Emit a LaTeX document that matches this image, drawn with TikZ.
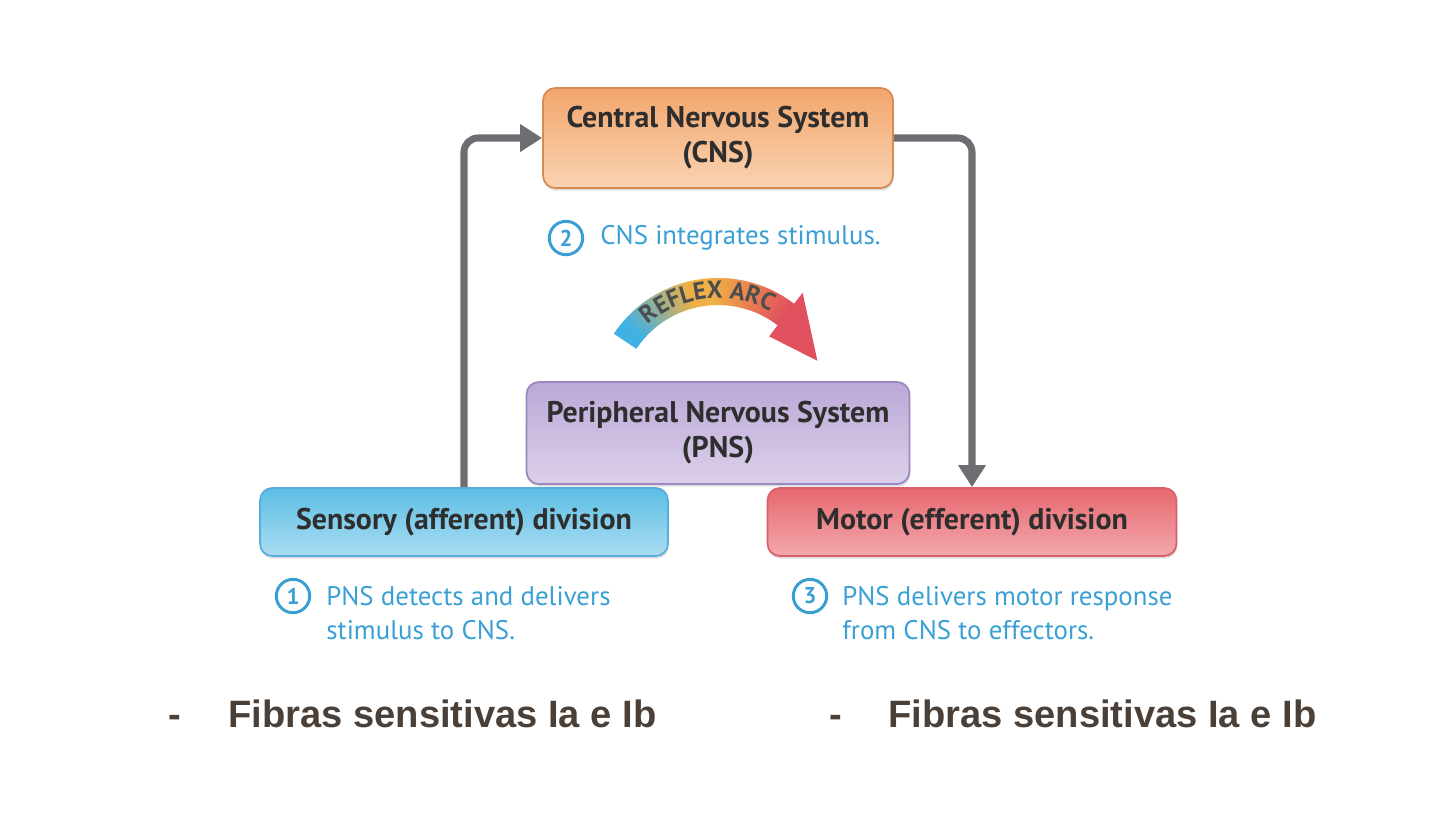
\documentclass[tikz,border=0pt]{standalone}
\usepackage{fontspec}
\setmainfont{PT Sans}
\newfontfamily\arialfont{Liberation Sans}
\usetikzlibrary{arrows.meta,decorations.text,shadows}

\definecolor{cnstop}{HTML}{F2A66C}
\definecolor{cnsbot}{HTML}{FAD3B2}
\definecolor{cnsline}{HTML}{D88A50}
\definecolor{pnstop}{HTML}{BBA8D6}
\definecolor{pnsbot}{HTML}{DCD0EA}
\definecolor{pnsline}{HTML}{9C88C0}
\definecolor{senstop}{HTML}{5DBEE4}
\definecolor{sensbot}{HTML}{A9DDF2}
\definecolor{sensline}{HTML}{58AEDA}
\definecolor{mottop}{HTML}{E6686F}
\definecolor{motbot}{HTML}{F3A8AC}
\definecolor{motline}{HTML}{D9606A}
\definecolor{linkgray}{HTML}{6D6E71}
\definecolor{stepblue}{HTML}{3AA0D4}
\definecolor{arcblue}{HTML}{3FB1E3}
\definecolor{arcorange}{HTML}{F0B046}
\definecolor{arcred}{HTML}{E0505E}
\definecolor{boxtext}{HTML}{2E2E2E}
\definecolor{bottomtext}{HTML}{4A4038}

\tikzset{
  system/.style={rounded corners=7pt, line width=1pt, align=center,
    text=boxtext, font=\bfseries\fontsize{17}{20}\selectfont,
    drop shadow={opacity=0.25, shadow xshift=0.4pt, shadow yshift=-1.5pt}},
  link/.style={linkgray, line width=4pt, rounded corners=8pt,
    -{Triangle[length=12.5pt,width=15pt]}},
  stepnum/.style={circle, draw=stepblue, line width=1.7pt, text=stepblue,
    inner sep=0pt, minimum size=19pt, font=\bfseries\fontsize{13}{13}\selectfont},
  steptext/.style={anchor=west, align=left, text=stepblue, inner sep=0pt,
    font=\fontsize{15.3}{19.3}\selectfont},
  fibras/.style={anchor=west, inner sep=0pt, text=bottomtext,
    font=\arialfont\bfseries\fontsize{21.7}{24}\selectfont}
}

\begin{document}
\begin{tikzpicture}[x=0.02cm,y=-0.02cm]
\useasboundingbox (0,0) rectangle (1440,826);

% boxes
\node[system, top color=cnstop, bottom color=cnsbot, draw=cnsline,
  minimum width=7cm, minimum height=2cm] (cns) at (718,138)
  {Central Nervous System\\(CNS)};
\node[system, top color=pnstop, bottom color=pnsbot, draw=pnsline,
  minimum width=7.66cm, minimum height=2.04cm] (pns) at (718,433)
  {Peripheral Nervous System\\(PNS)};
\node[system, top color=senstop, bottom color=sensbot, draw=sensline,
  minimum width=8.16cm, minimum height=1.36cm] (sens) at (464,522)
  {Sensory (afferent) division};
\node[system, top color=mottop, bottom color=motbot, draw=motline,
  minimum width=8.18cm, minimum height=1.36cm] (motor) at (972,522)
  {Motor (efferent) division};

% connectors
\draw[link] (sens.north) |- (cns.west);
\draw[link] (cns.east) -| (motor.north);

% reflex arc
\begin{scope}[shift={(718,403)}, y=0.02cm]
  \foreach \a in {52,...,145} {
    \pgfmathsetmacro\t{(\a-52)/93}
    \pgfmathparse{\t>0.55 ? 1 : 0}
    \ifnum\pgfmathresult=1
      \pgfmathsetmacro\p{min(100,(\t-0.55)*260)}
      \colorlet{slice}{arcblue!\p!arcorange}
    \else
      \pgfmathsetmacro\p{min(100,\t*230)}
      \colorlet{slice}{arcorange!\p!arcred}
    \fi
    \fill[slice] (\a:98) -- (\a:125) -- (\a+1.4:125) -- (\a+1.4:98) -- cycle;
  }
  \fill[arcred] (52.5:84) -- (52.5:139) -- (23:108) -- cycle;
  \path[decorate, decoration={text along path, text align=center,
    text color=boxtext!85,
    text={|\bfseries\fontsize{14}{14}\selectfont|REFLEX ARC}}]
    (146:105) arc[start angle=146, end angle=46, radius=105];
\end{scope}

% steps
\node[stepnum] (n2) at (566,238) {2};
\node[steptext] (t2) at (600,238) {CNS integrates stimulus.};
\node[stepnum] (n1) at (293,596) {1};
\node[steptext] (t1) at (326,613) {PNS detects and delivers\\stimulus to CNS.};
\node[stepnum] (n3) at (810,596) {3};
\node[steptext] (t3) at (842,613) {PNS delivers motor response\\from CNS to effectors.};

% bottom text
\node[fibras] (d1) at (168,721) {-};
\node[fibras] (f1) at (228,714) {Fibras sensitivas Ia e Ib};
\node[fibras] (d2) at (829,721) {-};
\node[fibras] (f2) at (888,714) {Fibras sensitivas Ia e Ib};
\end{tikzpicture}
\end{document}
